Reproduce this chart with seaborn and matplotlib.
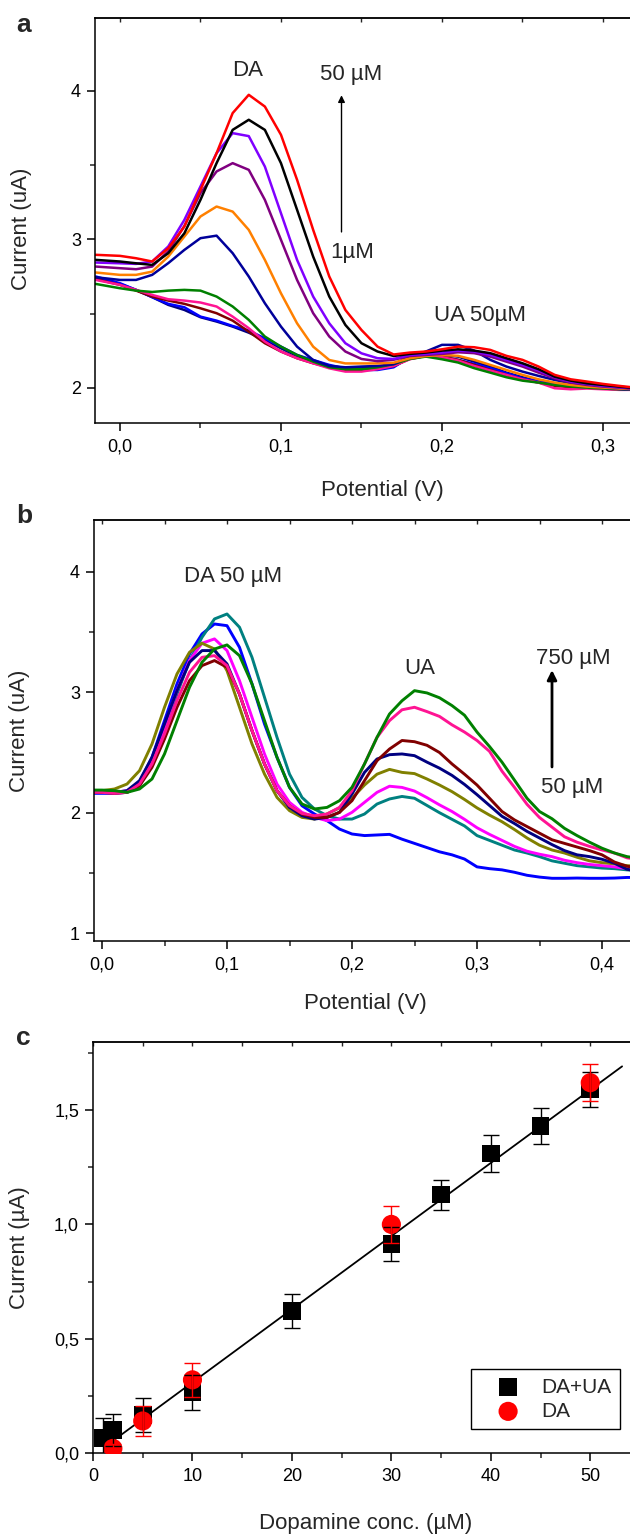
import matplotlib
matplotlib.use("Agg")
import matplotlib.pyplot as plt
from matplotlib.ticker import MultipleLocator, FuncFormatter
import pandas as pd
import seaborn as sns

# ---------------- panel a: DA 1-50 uM in presence of UA 50 uM ----------------
pot_a = [-0.015, 0.00, 0.01, 0.02, 0.03, 0.04, 0.05, 0.06, 0.07, 0.08, 0.09,
         0.10, 0.11, 0.12, 0.13, 0.14, 0.15, 0.16, 0.17, 0.18, 0.19, 0.20,
         0.21, 0.22, 0.23, 0.24, 0.25, 0.26, 0.27, 0.28, 0.29, 0.30, 0.31, 0.32]

a_navy2 = [2.738, 2.700, 2.660, 2.611, 2.559, 2.525, 2.476, 2.447, 2.413, 2.372, 2.323,
           2.267, 2.215, 2.177, 2.148, 2.132, 2.132, 2.139, 2.148, 2.200, 2.216, 2.222,
           2.211, 2.177, 2.144, 2.103, 2.072, 2.043, 2.027, 2.014, 2.005, 1.998, 1.991, 1.987]
a_blue = [2.750, 2.705, 2.660, 2.611, 2.566, 2.543, 2.480, 2.453, 2.417, 2.386, 2.334,
          2.278, 2.222, 2.188, 2.155, 2.132, 2.121, 2.121, 2.139, 2.207, 2.211, 2.207,
          2.189, 2.162, 2.133, 2.099, 2.065, 2.043, 2.025, 2.014, 2.005, 1.998, 1.991, 1.987]
a_maroon = [2.732, 2.694, 2.655, 2.615, 2.588, 2.566, 2.536, 2.503, 2.453, 2.379, 2.301,
            2.245, 2.200, 2.166, 2.139, 2.121, 2.121, 2.132, 2.148, 2.195, 2.216, 2.211,
            2.189, 2.155, 2.121, 2.088, 2.058, 2.036, 2.014, 2.005, 2.002, 1.996, 1.991, 1.987]
a_pink = [2.727, 2.694, 2.660, 2.626, 2.597, 2.588, 2.575, 2.548, 2.480, 2.402, 2.312,
          2.245, 2.200, 2.166, 2.132, 2.110, 2.110, 2.126, 2.148, 2.193, 2.216, 2.207,
          2.184, 2.148, 2.117, 2.088, 2.058, 2.036, 1.998, 1.991, 1.996, 1.991, 1.987, 1.987]
a_green = [2.700, 2.671, 2.655, 2.646, 2.655, 2.660, 2.655, 2.615, 2.548, 2.458, 2.346,
           2.278, 2.222, 2.177, 2.139, 2.126, 2.126, 2.139, 2.160, 2.195, 2.211, 2.193,
           2.171, 2.133, 2.103, 2.072, 2.049, 2.036, 2.020, 2.009, 2.002, 1.996, 1.991, 1.987]
a_navy = [2.745, 2.727, 2.727, 2.761, 2.840, 2.929, 3.008, 3.025, 2.907, 2.750, 2.570,
          2.413, 2.278, 2.188, 2.148, 2.139, 2.144, 2.148, 2.160, 2.211, 2.245, 2.290,
          2.290, 2.251, 2.189, 2.144, 2.110, 2.081, 2.054, 2.031, 2.014, 2.002, 1.993, 1.987]
a_orange = [2.777, 2.761, 2.761, 2.783, 2.884, 3.019, 3.154, 3.221, 3.187, 3.064, 2.862,
            2.637, 2.435, 2.278, 2.188, 2.165, 2.165, 2.165, 2.170, 2.200, 2.215, 2.222,
            2.216, 2.189, 2.155, 2.121, 2.088, 2.058, 2.036, 2.020, 2.009, 2.002, 1.996, 1.991]
a_purple = [2.817, 2.806, 2.799, 2.817, 2.920, 3.090, 3.311, 3.457, 3.513, 3.468, 3.266,
            2.997, 2.727, 2.503, 2.346, 2.245, 2.195, 2.180, 2.190, 2.215, 2.222, 2.229,
            2.240, 2.234, 2.211, 2.177, 2.144, 2.103, 2.065, 2.036, 2.020, 2.009, 2.002, 1.993]
a_violet = [2.844, 2.839, 2.835, 2.851, 2.952, 3.131, 3.356, 3.580, 3.715, 3.695, 3.490,
            3.176, 2.862, 2.615, 2.435, 2.301, 2.233, 2.200, 2.195, 2.222, 2.229, 2.238,
            2.251, 2.245, 2.222, 2.189, 2.155, 2.117, 2.072, 2.043, 2.027, 2.014, 2.005, 1.996]
a_black = [2.862, 2.851, 2.839, 2.828, 2.907, 3.041, 3.266, 3.513, 3.737, 3.805, 3.737,
           3.513, 3.199, 2.884, 2.615, 2.424, 2.301, 2.245, 2.215, 2.229, 2.238, 2.251,
           2.260, 2.251, 2.234, 2.200, 2.166, 2.126, 2.076, 2.049, 2.031, 2.020, 2.009, 1.998]
a_red = [2.896, 2.889, 2.873, 2.851, 2.940, 3.086, 3.333, 3.580, 3.850, 3.973, 3.894,
         3.704, 3.401, 3.064, 2.750, 2.525, 2.390, 2.278, 2.225, 2.238, 2.245, 2.260,
         2.278, 2.274, 2.256, 2.216, 2.189, 2.144, 2.088, 2.058, 2.043, 2.027, 2.014, 2.002]

# ---------------- panel b: UA 50-750 uM in presence of DA 50 uM ----------------
pot_b = [-0.007, 0.00, 0.01, 0.02, 0.03, 0.04, 0.05, 0.06, 0.07, 0.08, 0.09,
         0.10, 0.11, 0.12, 0.13, 0.14, 0.15, 0.16, 0.17, 0.18, 0.19, 0.20,
         0.21, 0.22, 0.23, 0.24, 0.25, 0.26, 0.27, 0.28, 0.29, 0.30, 0.31, 0.32,
         0.33, 0.34, 0.35, 0.36, 0.37, 0.38, 0.39, 0.40, 0.41, 0.42, 0.43]

b_blue = [2.161, 2.161, 2.161, 2.169, 2.252, 2.460, 2.765, 3.070, 3.319, 3.485, 3.568,
          3.554, 3.374, 3.070, 2.737, 2.460, 2.211, 2.058, 1.989, 1.934, 1.864, 1.823,
          1.810, 1.815, 1.820, 1.780, 1.745, 1.710, 1.675, 1.650, 1.615, 1.550, 1.535, 1.525,
          1.505, 1.480, 1.465, 1.455, 1.455, 1.457, 1.455, 1.455, 1.457, 1.462, 1.462]
b_teal = [2.169, 2.169, 2.169, 2.169, 2.224, 2.405, 2.682, 2.986, 3.264, 3.457, 3.610,
          3.651, 3.541, 3.291, 2.959, 2.626, 2.321, 2.127, 2.031, 1.975, 1.947, 1.947,
          1.989, 2.072, 2.114, 2.135, 2.120, 2.060, 2.000, 1.945, 1.890, 1.810, 1.770, 1.730,
          1.690, 1.665, 1.635, 1.600, 1.580, 1.560, 1.550, 1.540, 1.535, 1.525, 1.520]
b_magenta = [2.169, 2.169, 2.169, 2.183, 2.252, 2.432, 2.709, 3.014, 3.264, 3.408, 3.444,
             3.347, 3.097, 2.792, 2.488, 2.238, 2.086, 2.003, 1.961, 1.934, 1.947, 2.003,
             2.086, 2.169, 2.220, 2.210, 2.180, 2.125, 2.065, 2.010, 1.945, 1.875, 1.820, 1.770,
             1.720, 1.680, 1.655, 1.635, 1.605, 1.585, 1.570, 1.560, 1.550, 1.535, 1.530]
b_olive = [2.183, 2.183, 2.197, 2.238, 2.349, 2.571, 2.876, 3.153, 3.333, 3.408, 3.360,
           3.180, 2.876, 2.571, 2.321, 2.127, 2.017, 1.961, 1.947, 1.990, 2.040, 2.120,
           2.230, 2.320, 2.360, 2.335, 2.325, 2.280, 2.230, 2.175, 2.110, 2.040, 1.980, 1.925,
           1.860, 1.790, 1.730, 1.690, 1.665, 1.630, 1.600, 1.585, 1.575, 1.560, 1.555]
b_navy = [2.169, 2.169, 2.169, 2.183, 2.266, 2.460, 2.737, 3.014, 3.250, 3.347, 3.347,
          3.236, 2.986, 2.682, 2.405, 2.183, 2.044, 1.975, 1.947, 1.961, 2.003, 2.155,
          2.335, 2.446, 2.482, 2.488, 2.474, 2.420, 2.370, 2.310, 2.235, 2.150, 2.060, 1.970,
          1.910, 1.845, 1.790, 1.735, 1.685, 1.650, 1.635, 1.613, 1.580, 1.530, 1.510]
b_maroon = [2.169, 2.169, 2.161, 2.169, 2.224, 2.377, 2.612, 2.876, 3.097, 3.222, 3.264,
            3.208, 2.986, 2.682, 2.405, 2.183, 2.058, 1.989, 1.961, 1.961, 2.003, 2.100,
            2.266, 2.432, 2.529, 2.600, 2.590, 2.560, 2.500, 2.405, 2.320, 2.230, 2.120, 2.010,
            1.940, 1.885, 1.830, 1.775, 1.745, 1.715, 1.685, 1.650, 1.590, 1.555, 1.540]
b_pink = [2.169, 2.169, 2.161, 2.169, 2.238, 2.405, 2.654, 2.931, 3.167, 3.291, 3.305,
          3.222, 2.986, 2.682, 2.405, 2.183, 2.058, 1.994, 1.975, 1.989, 2.044, 2.183,
          2.405, 2.626, 2.765, 2.855, 2.876, 2.840, 2.800, 2.730, 2.670, 2.600, 2.510, 2.345,
          2.210, 2.070, 1.960, 1.880, 1.800, 1.755, 1.720, 1.690, 1.665, 1.625, 1.610]
b_green = [2.188, 2.188, 2.183, 2.169, 2.197, 2.280, 2.488, 2.765, 3.042, 3.250, 3.360,
           3.394, 3.305, 3.070, 2.765, 2.460, 2.211, 2.072, 2.031, 2.044, 2.100, 2.211,
           2.405, 2.626, 2.820, 2.930, 3.014, 2.995, 2.955, 2.890, 2.810, 2.670, 2.550, 2.420,
           2.270, 2.120, 2.010, 1.950, 1.870, 1.810, 1.755, 1.705, 1.665, 1.635, 1.620]

# ---------------- panel c: calibration ----------------
conc_mix = [1, 2, 5, 10, 20, 30, 35, 40, 45, 50]
cur_mix = [0.065, 0.10, 0.165, 0.265, 0.62, 0.915, 1.13, 1.31, 1.43, 1.59]
err_mix = [0.09, 0.07, 0.075, 0.075, 0.075, 0.075, 0.065, 0.08, 0.08, 0.078]
conc_da = [2, 5, 10, 30, 50]
cur_da = [0.02, 0.14, 0.32, 1.00, 1.62]
err_da = [0.02, 0.065, 0.075, 0.08, 0.08]
fit_slope, fit_icpt = 0.032, -0.011
fit_range = [1.7, 53.2]

# ---------------- style ----------------
sns.set_style("ticks")
plt.rcParams["font.family"] = ["Liberation Sans", "DejaVu Sans"]
plt.rcParams["axes.linewidth"] = 1.1
plt.rcParams["mathtext.default"] = "regular"

fig = plt.figure(figsize=(6.3, 15.35), dpi=100)

def comma(fmt):
    return FuncFormatter(lambda v, p: (fmt % v).replace(".", ","))

def style_axis(ax, xmaj, xmin, ymaj, ymin, xfmt, yfmt):
    ax.xaxis.set_major_locator(MultipleLocator(xmaj))
    ax.xaxis.set_minor_locator(MultipleLocator(xmin))
    ax.yaxis.set_major_locator(MultipleLocator(ymaj))
    ax.yaxis.set_minor_locator(MultipleLocator(ymin))
    ax.xaxis.set_major_formatter(comma(xfmt))
    ax.yaxis.set_major_formatter(comma(yfmt))
    ax.tick_params(which="major", direction="out", length=6, width=1.1,
                   labelsize=13, colors="black")
    ax.tick_params(which="minor", direction="out", length=3.5, width=1.1)
    ax.tick_params(axis="x", which="major", pad=5)
    ax.tick_params(axis="y", which="major", pad=4)
    ax.spines["right"].set_visible(False)
    for s in ("left", "bottom", "top"):
        ax.spines[s].set_color("black")
    top = ax.secondary_xaxis("top")
    top.xaxis.set_major_locator(MultipleLocator(xmaj))
    top.xaxis.set_minor_locator(MultipleLocator(xmin))
    top.tick_params(which="both", direction="in", length=3, width=1.0,
                    labeltop=False)
    top.spines["top"].set_linewidth(1.1)

def curves_frame(pot, named):
    rows = []
    for name, vals in named:
        rows.append(pd.DataFrame({"V": pot, "I": vals, "curve": name}))
    return pd.concat(rows, ignore_index=True)

# ---- panel a ----
ax_a = fig.add_axes([95 / 630, 1 - 423 / 1535, 574 / 630, 405 / 1535])
curves_a = [("navy2", a_navy2), ("blue", a_blue), ("maroon", a_maroon),
            ("pink", a_pink), ("green", a_green), ("navy", a_navy),
            ("orange", a_orange), ("purple", a_purple), ("violet", a_violet),
            ("black", a_black), ("red", a_red)]
pal_a = {"navy2": "#000080", "blue": "#0000FF", "maroon": "#800000",
         "pink": "#FF1493", "green": "#008000", "navy": "#00009A",
         "orange": "#FF8000", "purple": "#800080", "violet": "#8000FF",
         "black": "#000000", "red": "#FF0000"}
df_a = curves_frame(pot_a, curves_a)
sns.lineplot(data=df_a, x="V", y="I", hue="curve", palette=pal_a,
             hue_order=[n for n, _ in curves_a], estimator=None, sort=False,
             legend=False, linewidth=1.8, ax=ax_a)
ax_a.set_xlim(-0.0155, 0.341)
ax_a.set_ylim(1.764, 4.49)
style_axis(ax_a, 0.1, 0.05, 1, 0.5, "%.1f", "%d")
ax_a.set_xlabel("Potential (V)", fontsize=16)
ax_a.set_ylabel("Current (uA)", fontsize=16)
ax_a.xaxis.set_label_coords(0.5, -0.141)
ax_a.yaxis.set_label_coords(-0.110, 0.48)
ax_a.text(0.0795, 4.135, "DA", fontsize=16, ha="center", va="center")
ax_a.text(0.1435, 4.11, "50 \u00b5M", fontsize=16, ha="center", va="center")
ax_a.text(0.144, 2.909, "1\u00b5M", fontsize=16, ha="center", va="center")
ax_a.text(0.2236, 2.49, "UA 50\u00b5M", fontsize=16, ha="center", va="center")
ax_a.annotate("", xy=(0.1376, 3.97), xytext=(0.1376, 3.05),
              arrowprops=dict(arrowstyle="-|>", lw=1.0, color="black",
                              mutation_scale=10, shrinkA=0, shrinkB=0))

# ---- panel b ----
ax_b = fig.add_axes([94 / 630, 1 - 941 / 1535, 542 / 630, 421 / 1535])
curves_b = [("blue", b_blue), ("teal", b_teal), ("magenta", b_magenta),
            ("olive", b_olive), ("navy", b_navy), ("maroon", b_maroon),
            ("pink", b_pink), ("green", b_green)]
pal_b = {"blue": "#0000FF", "teal": "#008080", "magenta": "#FF00FF",
         "olive": "#808000", "navy": "#000080", "maroon": "#800000",
         "pink": "#FF1493", "green": "#008000"}
df_b = curves_frame(pot_b, curves_b)
sns.lineplot(data=df_b, x="V", y="I", hue="curve", palette=pal_b,
             hue_order=[n for n, _ in curves_b], estimator=None, sort=False,
             legend=False, linewidth=2.1, ax=ax_b)
ax_b.set_xlim(-0.0064, 0.4272)
ax_b.set_ylim(0.934, 4.432)
style_axis(ax_b, 0.1, 0.05, 1, 0.5, "%.1f", "%d")
ax_b.set_xlabel("Potential (V)", fontsize=16)
ax_b.set_ylabel("Current (uA)", fontsize=16)
ax_b.xaxis.set_label_coords(0.5, -0.1235)
ax_b.yaxis.set_label_coords(-0.118, 0.5)
ax_b.text(0.1048, 3.96, "DA 50 \u00b5M", fontsize=16, ha="center", va="center")
ax_b.text(0.2544, 3.20, "UA", fontsize=16, ha="center", va="center")
ax_b.text(0.3768, 3.285, "750 \u00b5M", fontsize=16, ha="center", va="center")
ax_b.text(0.376, 2.21, "50 \u00b5M", fontsize=16, ha="center", va="center")
ax_b.annotate("", xy=(0.36, 3.185), xytext=(0.36, 2.38),
              arrowprops=dict(arrowstyle="-|>", lw=2.0, color="black",
                              mutation_scale=14, shrinkA=0, shrinkB=0))

# ---- panel c ----
ax_c = fig.add_axes([93 / 630, 1 - 1453 / 1535, 546 / 630, 411 / 1535])
fit_y = [fit_slope * x + fit_icpt for x in fit_range]
sns.lineplot(x=fit_range, y=fit_y, color="black", linewidth=1.3, ax=ax_c,
             zorder=2)
sns.scatterplot(x=conc_mix, y=cur_mix, marker="s", s=160, color="black",
                edgecolor="none", label="DA+UA", ax=ax_c, zorder=3)
sns.scatterplot(x=conc_da, y=cur_da, marker="o", s=190, color="red",
                edgecolor="none", label="DA", ax=ax_c, zorder=4)
ax_c.errorbar(conc_mix, cur_mix, yerr=err_mix, fmt="none", ecolor="black",
              elinewidth=1.0, capsize=6, capthick=1.0, zorder=5)
ax_c.errorbar(conc_da, cur_da, yerr=err_da, fmt="none", ecolor="red",
              elinewidth=1.0, capsize=6, capthick=1.0, zorder=6)
ax_c.set_xlim(0, 54.9)
ax_c.set_ylim(0, 1.798)
style_axis(ax_c, 10, 5, 0.5, 0.25, "%d", "%.1f")
ax_c.set_xlabel("Dopamine conc. (\u00b5M)", fontsize=16)
ax_c.set_ylabel("Current (\u00b5A)", fontsize=16)
ax_c.xaxis.set_label_coords(0.5, -0.146)
ax_c.yaxis.set_label_coords(-0.115, 0.5)
leg = ax_c.legend(loc="lower right", bbox_to_anchor=(0.965, 0.058),
                  borderaxespad=0, frameon=True, fancybox=False,
                  edgecolor="black", framealpha=1, fontsize=15,
                  handlelength=2.8, handletextpad=0.2, borderpad=0.4,
                  labelspacing=0.25, scatterpoints=1)
leg.get_frame().set_linewidth(1.0)

# panel letters
fig.text(16 / 630, 1 - 32 / 1535, "a", fontsize=19, weight="bold",
         ha="left", va="baseline")
fig.text(16 / 630, 1 - 523 / 1535, "b", fontsize=19, weight="bold",
         ha="left", va="baseline")
fig.text(16 / 630, 1 - 1045 / 1535, "c", fontsize=19, weight="bold",
         ha="left", va="baseline")

fig.savefig("out.png", dpi=100)
plt.close(fig)
